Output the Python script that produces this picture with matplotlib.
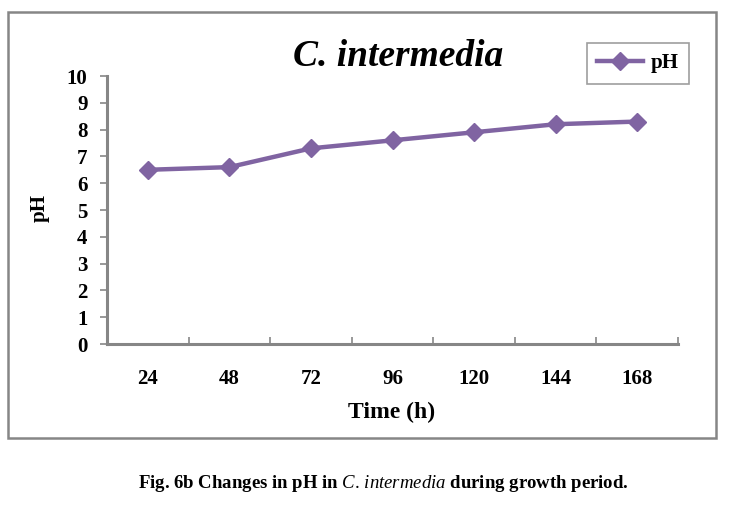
import matplotlib
matplotlib.use("Agg")
import matplotlib.pyplot as plt
from matplotlib.patches import Rectangle

plt.rcParams['font.family'] = ['Liberation Serif', 'DejaVu Serif']
plt.rcParams['mathtext.fontset'] = 'custom'
plt.rcParams['mathtext.it'] = 'Liberation Serif:italic'
plt.rcParams['mathtext.rm'] = 'Liberation Serif'

hours = ["24", "48", "72", "96", "120", "144", "168"]
ph = [6.5, 6.6, 7.3, 7.6, 7.9, 8.2, 8.3]
yticks = list(range(0, 11))

purple = "#8064A2"
grey = "#868686"

fig = plt.figure(figsize=(7.29, 5.09), dpi=100)
W, H = 729, 509

# chart border
fig.patches.append(Rectangle((8 / W, 1 - 438 / H), (716 - 8) / W, (438 - 12) / H,
                             transform=fig.transFigure, fill=False,
                             edgecolor=grey, lw=1.8))

ax = fig.add_axes([107 / W, 1 - 344 / H, (678 - 107) / W, (344 - 76) / H])
x = list(range(len(hours)))
ax.plot(x, ph, color=purple, lw=3.2, marker="D", markersize=9, label="pH")

ax.set_xlim(-0.5, len(hours) - 0.5)
ax.set_ylim(0, 10)
ax.set_yticks(yticks)
ax.set_yticklabels([str(v) for v in yticks], fontsize=15, fontweight="bold")
ax.set_xticks([i - 0.5 for i in range(len(hours) + 1)])
ax.set_xticklabels([])
ax.set_xticks(x, minor=True)
ax.set_xticklabels(hours, minor=True, fontsize=15, fontweight="bold")
ax.tick_params(axis="x", which="major", direction="in", length=5, width=1.2, color=grey)
ax.tick_params(axis="x", which="minor", length=0, pad=18)
ax.tick_params(axis="y", direction="out", length=5, width=1.2, color=grey, pad=9)

for s in ["top", "right"]:
    ax.spines[s].set_visible(False)
for s in ["left", "bottom"]:
    ax.spines[s].set_color(grey)
    ax.spines[s].set_linewidth(2.2)

fig.text(398 / W, 1 - 56 / H, "C. intermedia", ha="center", va="center",
         fontsize=27, fontweight="bold", fontstyle="italic")
fig.text(392 / W, 1 - 412 / H, "Time (h)", ha="center", va="center",
         fontsize=17, fontweight="bold")
fig.text(40 / W, 1 - 208 / H, "pH", ha="center", va="center", rotation=90,
         fontsize=15, fontweight="bold")

leg = ax.legend(loc="upper left", bbox_to_anchor=(587 / W, 1 - 43 / H),
                bbox_transform=fig.transFigure, frameon=True, fancybox=False,
                prop={"size": 15, "weight": "bold"}, handlelength=2.2,
                borderpad=0.5, handletextpad=0.35, borderaxespad=0)
leg.get_frame().set_edgecolor(grey)
leg.get_frame().set_linewidth(1.2)

fig.text(383 / W, 1 - 484 / H,
         "Fig. 6b Changes in pH in $\\mathit{C.\\,intermedia}$ during growth period.",
         ha="center", va="center", fontsize=13.5, fontweight="bold")

fig.savefig("out.png", dpi=100)
